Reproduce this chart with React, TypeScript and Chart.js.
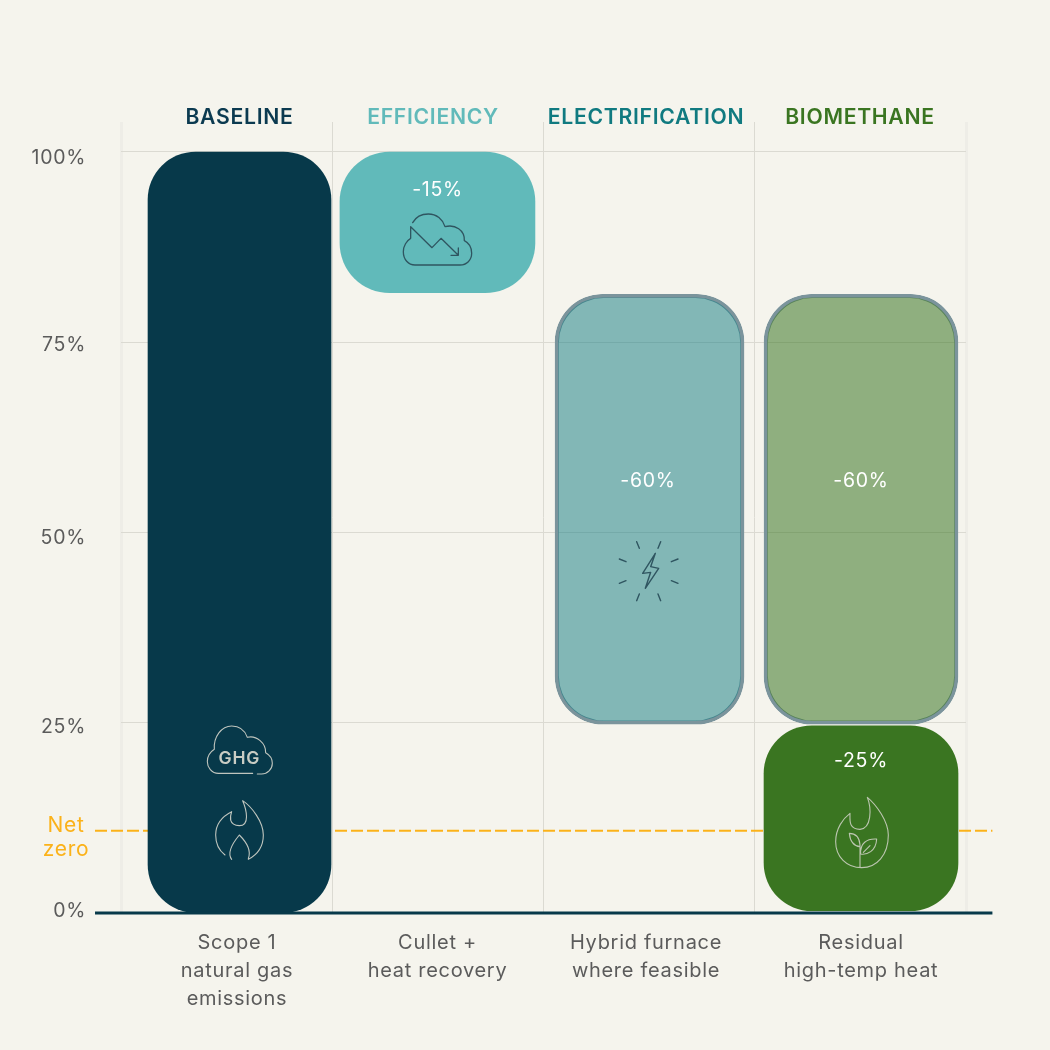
import React, { useEffect, useRef } from "react";
import { Chart, registerables } from "chart.js";

Chart.register(...registerables);

// ---------- data ----------
const headers = ["BASELINE", "EFFICIENCY", "ELECTRIFICATION", "BIOMETHANE"];
const categoryLabels = [
  ["Scope 1", "natural gas", "emissions"],
  ["Cullet +", "heat recovery"],
  ["Hybrid furnace", "where feasible"],
  ["Residual", "high-temp heat"],
];
const yTickValues = [0, 10.8, 25, 50, 75, 100];
const yTickLabels = ["0%", ["Net", "zero"], "25%", "50%", "75%", "100%"];
const baselineRange = [0, 100];
const efficiencyRange = [81.5, 100];
const electrificationRange = [24.8, 81.3];
const biomethaneRange = [24.8, 81.3];
const residualRange = [0.3, 24.6];
const netZeroValue = 10.8;
const barLabels = ["-15%", "-60%", "-60%", "-25%"];
const barLabelValues = [95.0, 56.8, 56.8, 20.0];

// ---------- layout ----------
const FONT = "Inter, 'Open Sans', sans-serif";
const BG = "#f5f4ed";
const TEXT = "#5b5b5b";
const NAVY = "#07394a";
const ORANGE = "#fbb21a";
const X_COL = [0.561, 1.498, 2.502, 3.503];
const BAR_LABEL_X = [437.5, 648, 861, 861];
const HEADER_X = [239.5, 433, 646, 860];
const HEADER_COLORS = ["#0b3a50", "#61baba", "#107a80", "#3a7521"];
const CAT_X = [237, 437.5, 646, 861];
const Y_LABEL_Y = [911, 826, 727, 538, 345, 158];
const LINE_X: [number, number] = [-0.123, 4.125];

function flat(x: number, r: number[]) {
  return [{ x, y: r }];
}

function icon(ctx: CanvasRenderingContext2D, d: string, ox: number, oy: number, color: string, width: number) {
  ctx.save();
  ctx.translate(ox, oy);
  ctx.scale(1 / 3, 1 / 3);
  ctx.strokeStyle = color;
  ctx.lineWidth = width * 3;
  ctx.lineCap = "round";
  ctx.lineJoin = "round";
  ctx.stroke(new Path2D(d));
  ctx.restore();
}

const CLOUD_DOWN =
  "M218 218 C228 200 245 192 265 192 C290 192 308 208 315 230 C345 222 375 240 373 272 C385 278 395 292 395 310 C395 330 380 345 360 345 L225 345 C205 345 190 328 190 305 C190 288 200 272 212 265 L212 230 L276 293 L303 265 L355 316 M355 316 L333 316 M355 316 L355 294";
const GHG_CLOUD =
  "M218 190 L115 190 C95 190 82 172 82 155 C82 138 92 125 103 118 C100 80 125 48 155 48 C178 48 195 62 202 82 C230 75 258 100 257 128 C270 135 277 148 277 160 C277 178 262 192 245 192 L232 192";
const FLAME =
  "M155 305 C150 320 145 345 178 347 C210 347 200 300 188 272 C215 290 250 335 250 375 C250 410 230 435 205 448 M155 305 C125 320 107 345 107 375 C107 400 118 422 135 435 M155 448 C145 435 145 415 178 375 C195 392 215 420 205 445";
const BOLT =
  "M110 35 L118 55 M182 35 L174 55 M58 87 L78 95 M234 87 L214 95 M58 160 L78 152 M234 160 L214 152 M110 212 L118 192 M182 212 L174 192 M166 70 L128 130 L152 127 L136 175 L176 115 L152 110 Z";
const LEAF_FLAME =
  "M120 100 C100 115 77 145 77 185 C77 230 110 263 155 263 C200 263 235 225 235 165 C235 125 200 75 172 52 C185 85 185 145 150 148 C115 148 120 120 120 100 Z M150 263 L150 195 C148 170 135 160 118 160 C120 180 130 198 150 200 M152 222 C170 225 198 215 200 177 C170 175 150 190 152 222 Z M160 217 L180 197";

const overlayPlugin = {
  id: "overlay",
  beforeDraw(chart: any) {
    const ctx = chart.ctx;
    ctx.letterSpacing = "0.7px";
    const area = chart.chartArea;
    chart.scales.y.getLabelItems(area).forEach((it: any, i: number) => {
      it.textOffset = 0;
      it.options.translation = [i === 1 ? 66 : 86, Y_LABEL_Y[i]];
      it.options.textBaseline = "middle";
      it.options.textAlign = i === 1 ? "center" : "right";
    });
    chart.scales.xTop.getLabelItems(area).forEach((it: any, i: number) => {
      it.textOffset = 0;
      it.options.translation = [HEADER_X[i], 118];
      it.options.textBaseline = "middle";
      it.options.textAlign = "center";
    });
    chart.scales.xBottom.getLabelItems(area).forEach((it: any, i: number) => {
      it.textOffset = 0;
      it.options.translation = [CAT_X[i], 943];
      it.options.textBaseline = "middle";
      it.options.textAlign = "center";
    });
  },
  afterDatasetsDraw(chart: any) {
    const ctx = chart.ctx;
    const y = chart.scales.y;
    ctx.save();
    ctx.fillStyle = "#ffffff";
    ctx.font = `400 19.5px ${FONT}`;
    ctx.textAlign = "center";
    ctx.textBaseline = "middle";
    barLabels.forEach((t, i) => ctx.fillText(t, BAR_LABEL_X[i], y.getPixelForValue(barLabelValues[i])));
    ctx.fillStyle = "#c9cdc4";
    ctx.font = `600 17.5px ${FONT}`;
    ctx.fillText("GHG", 239.3, 759);
    ctx.restore();
    icon(ctx, CLOUD_DOWN, 340, 150, "#2f5560", 1.3);
    icon(ctx, GHG_CLOUD, 180, 710, "#bfc5be", 1.1);
    icon(ctx, FLAME, 180, 710, "#bfc5be", 1.1);
    icon(ctx, BOLT, 600, 530, "#2f5560", 1.4);
    icon(ctx, LEAF_FLAME, 810, 780, "#bcc6b0", 1.1);
  },
};

export default function App() {
  const ref = useRef<HTMLCanvasElement>(null);
  useEffect(() => {
    document.body.style.margin = "0";
    document.body.style.background = BG;
    const bar = (x: number, r: number[], color: string, w: number, extra: any = {}) => ({
      type: "bar" as const,
      data: flat(x, r),
      backgroundColor: color,
      maxBarThickness: w,
      barPercentage: 1,
      categoryPercentage: 1,
      grouped: false,
      borderRadius: 48,
      borderSkipped: false,
      borderWidth: 0,
      clip: false,
      xAxisID: "x",
      yAxisID: "y",
      order: 1,
      ...extra,
    });
    const line = (v: number, color: string, w: number, dash: number[], order: number) => ({
      type: "line" as const,
      data: [
        { x: LINE_X[0], y: v },
        { x: LINE_X[1], y: v },
      ],
      borderColor: color,
      borderWidth: w,
      borderDash: dash,
      pointRadius: 0,
      clip: false,
      xAxisID: "x",
      yAxisID: "y",
      order,
    });
    const chart = new Chart(ref.current!, {
      type: "bar",
      data: {
        datasets: [
          line(netZeroValue, ORANGE, 2, [12, 4], 10),
          bar(X_COL[0], baselineRange, NAVY, 183),
          bar(X_COL[1], efficiencyRange, "#61baba", 195, { borderRadius: 50 }),
          bar(X_COL[2], electrificationRange, "rgba(16,122,128,0.5)", 189, {
            borderWidth: 3.5,
            borderColor: "#7b949c",
          }),
          bar(X_COL[3], biomethaneRange, "rgba(58,117,33,0.54)", 194, {
            borderWidth: 3.5,
            borderColor: "#7b949c",
          }),
          bar(X_COL[3], residualRange, "#3a7521", 194),
          line(0, NAVY, 3, [], -1),
        ] as any,
      },
      options: {
        responsive: false,
        animation: false,
        events: [],
        layout: { padding: { left: 1, right: 84, top: 0, bottom: 0 }, autoPadding: false },
        plugins: { legend: { display: false }, tooltip: { enabled: false } },
        scales: {
          x: {
            type: "linear",
            position: "bottom",
            offset: false,
            min: 0,
            max: 4,
            ticks: { display: false, stepSize: 1 },
            border: { display: false },
            grid: {
              drawTicks: false,
              offset: false,
              color: (c: any) => (c.tick.value === 0 || c.tick.value === 4 ? "#eeede7" : "#dbdad2"),
              lineWidth: (c: any) => (c.tick.value === 0 || c.tick.value === 4 ? 3 : 1),
            },
          },
          xBottom: {
            type: "category",
            position: "bottom",
            labels: categoryLabels as any,
            grid: { display: false },
            border: { display: false },
            ticks: {
              autoSkip: false,
              maxRotation: 0,
              minRotation: 0,
              color: TEXT,
              font: { family: FONT, size: 20, weight: "400", lineHeight: "28px" },
            },
            afterFit: (s: any) => {
              s.height = 137;
            },
          },
          xTop: {
            type: "category",
            position: "top",
            labels: headers,
            grid: { display: false },
            border: { display: false },
            ticks: {
              mirror: true,
              autoSkip: false,
              maxRotation: 0,
              minRotation: 0,
              color: (c: any) => HEADER_COLORS[c.index],
              font: { family: FONT, size: 21.2, weight: "600" },
            },
            afterFit: (s: any) => {
              s.height = 122;
            },
          },
          y: {
            type: "linear",
            position: "left",
            min: 0,
            max: 103.94,
            afterBuildTicks: (s: any) => {
              s.ticks = yTickValues.map((value) => ({ value }));
            },
            afterFit: (s: any) => {
              s.width = 120;
            },
            border: { display: false },
            grid: {
              drawTicks: false,
              color: (c: any) =>
                c.tick.value === netZeroValue || c.tick.value === 0 ? "rgba(0,0,0,0)" : "#dbdad2",
            },
            ticks: {
              autoSkip: false,
              padding: 34,
              callback: (_v: any, i: number) => yTickLabels[i] as any,
              color: (c: any) => (c.index === 1 ? ORANGE : TEXT),
              font: (c: any) => ({
                family: FONT,
                size: c.index === 1 ? 21 : 19.5,
                weight: "400",
                lineHeight: "24px",
              }),
            },
          },
        },
      } as any,
      plugins: [overlayPlugin as any],
    });
    return () => chart.destroy();
  }, []);
  return (
    <div style={{ width: 1050, height: 1050, background: BG }}>
      <canvas ref={ref} width={1050} height={1050} style={{ display: "block" }} />
    </div>
  );
}
